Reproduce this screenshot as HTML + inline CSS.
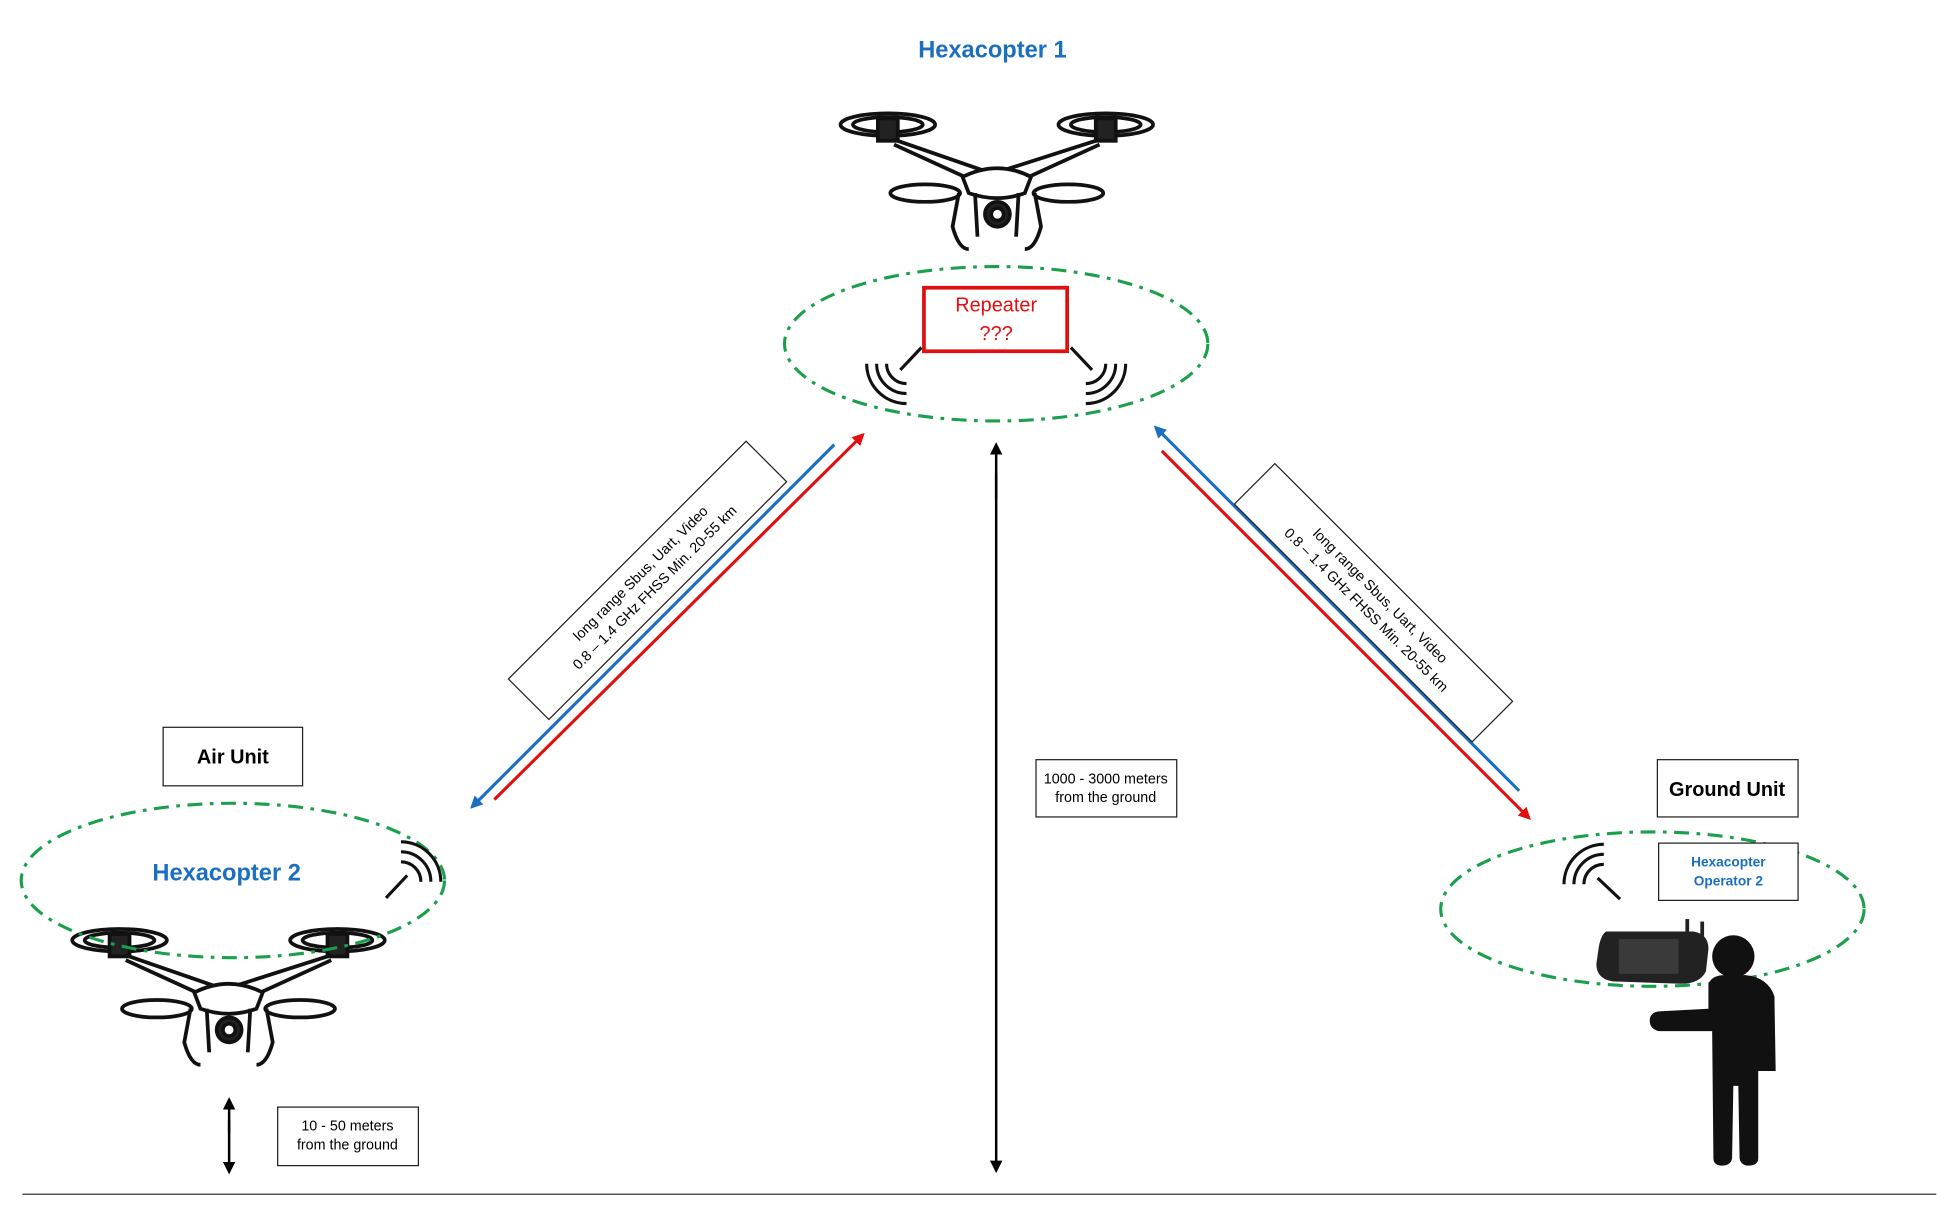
<!DOCTYPE html>
<html><head><meta charset="utf-8"><style>
html,body{margin:0;padding:0;background:#fff;}
svg{display:block;font-family:"Liberation Sans",sans-serif;}
</style></head><body>
<svg width="1950" height="1218" viewBox="0 0 1566 978" xmlns="http://www.w3.org/2000/svg">
<defs>
<marker id="ab" markerWidth="10" markerHeight="10" refX="8" refY="5" orient="auto" markerUnits="userSpaceOnUse"><path d="M0,0 L10,5 L0,10 z" fill="#1a6fc0"/></marker>
<marker id="ar" markerWidth="10" markerHeight="10" refX="8" refY="5" orient="auto" markerUnits="userSpaceOnUse"><path d="M0,0 L10,5 L0,10 z" fill="#e01010"/></marker>
<marker id="ak" markerWidth="10" markerHeight="10" refX="8" refY="5" orient="auto" markerUnits="userSpaceOnUse"><path d="M0,0 L10,5 L0,10 z" fill="#000"/></marker>
<g id="drone" fill="none" stroke="#111" stroke-width="3">
  <ellipse cx="0" cy="0" rx="38" ry="9"/><ellipse cx="0" cy="0" rx="28" ry="6"/>
  <ellipse cx="175" cy="0" rx="38" ry="9"/><ellipse cx="175" cy="0" rx="28" ry="6"/>
  <ellipse cx="30" cy="55" rx="28" ry="7"/><ellipse cx="145" cy="55" rx="28" ry="7"/>
  <rect x="-8" y="-5" width="16" height="18" fill="#222"/><rect x="167" y="-5" width="16" height="18" fill="#222"/>
  <path d="M5,12 L80,38 L95,36 L170,12 M5,16 L75,48 M170,16 L100,48"/>
  <path d="M60,42 Q88,28 115,42 L110,55 Q88,63 65,55 Z" fill="#fff"/>
  <path d="M57,55 L52,82 Q57,100 65,100 M118,55 L123,82 Q118,100 110,100"/>
  <path d="M70,55 L72,90 M105,55 L103,90"/>
  <circle cx="88" cy="72" r="10" fill="#222"/><circle cx="88" cy="72" r="5" fill="#fff"/>
</g>
<g id="sig" fill="none" stroke="#111" stroke-width="2.5">
  <path d="M-5,5 L12,-13"/>
  <path d="M-16,0 A16,16 0 0 0 0,16"/><path d="M-24,0 A24,24 0 0 0 0,24"/><path d="M-32,0 A32,32 0 0 0 0,32"/>
</g>
</defs>

<text x="797" y="46" text-anchor="middle" font-size="19" font-weight="bold" fill="#1a6fc0">Hexacopter 1</text>
<use href="#drone" x="713" y="100"/>

<ellipse cx="800" cy="276" rx="170" ry="62" fill="none" stroke="#1aa04a" stroke-width="2.5" stroke-dasharray="12,6,3,6"/>
<rect x="742" y="231" width="115" height="51" fill="#fff" stroke="#e01010" stroke-width="3"/>
<text x="800" y="250" text-anchor="middle" font-size="16" fill="#e01010">Repeater</text>
<text x="800" y="273" text-anchor="middle" font-size="16" fill="#e01010">???</text>
<use href="#sig" transform="translate(728,292)"/>
<use href="#sig" transform="translate(872,292) scale(-1,1)"/>

<line x1="670" y1="357" x2="379" y2="648" stroke="#1a6fc0" stroke-width="2.5" marker-end="url(#ab)"/>
<line x1="397" y1="642" x2="693" y2="349" stroke="#e01010" stroke-width="2.5" marker-end="url(#ar)"/>
<g transform="translate(520,466) rotate(-45)">
<rect x="-135" y="-23" width="270" height="46" fill="#fff" stroke="#222" stroke-width="1"/>
<text x="0" y="-4" text-anchor="middle" font-size="11.5">long range Sbus, Uart, Video</text>
<text x="0" y="12" text-anchor="middle" font-size="11.5">0.8 – 1.4 GHz FHSS Min. 20-55 km</text>
</g>

<line x1="1220" y1="635" x2="928" y2="343" stroke="#1a6fc0" stroke-width="2.5" marker-end="url(#ab)"/>
<line x1="933" y1="362" x2="1228" y2="657" stroke="#e01010" stroke-width="2.5" marker-end="url(#ar)"/>
<g transform="translate(1103,484) rotate(45)">
<rect x="-135" y="-23" width="270" height="46" fill="#fff" stroke="#222" stroke-width="1"/>
<text x="0" y="-4" text-anchor="middle" font-size="11.5">long range Sbus, Uart, Video</text>
<text x="0" y="12" text-anchor="middle" font-size="11.5">0.8 – 1.4 GHz FHSS Min. 20-55 km</text>
</g>

<line x1="800" y1="400" x2="800" y2="357" stroke="#000" stroke-width="2" marker-end="url(#ak)"/>
<line x1="800" y1="380" x2="800" y2="940" stroke="#000" stroke-width="2" marker-end="url(#ak)"/>
<rect x="832" y="610" width="113" height="46" fill="#fff" stroke="#222"/>
<text x="888" y="629" text-anchor="middle" font-size="11.5">1000 - 3000 meters</text>
<text x="888" y="644" text-anchor="middle" font-size="11.5">from the ground</text>

<rect x="131" y="584" width="112" height="47" fill="#fff" stroke="#222"/>
<text x="187" y="613" text-anchor="middle" font-size="16" font-weight="bold">Air Unit</text>
<use href="#drone" x="96" y="755"/>
<ellipse cx="187" cy="707" rx="170" ry="62" fill="none" stroke="#1aa04a" stroke-width="2.5" stroke-dasharray="12,6,3,6"/>
<text x="182" y="707" text-anchor="middle" font-size="19" font-weight="bold" fill="#1a6fc0">Hexacopter 2</text>
<use href="#sig" transform="translate(322,708) rotate(180)"/>

<line x1="184" y1="910" x2="184" y2="883" stroke="#000" stroke-width="2" marker-end="url(#ak)"/>
<line x1="184" y1="900" x2="184" y2="941" stroke="#000" stroke-width="2" marker-end="url(#ak)"/>
<rect x="223" y="889" width="113" height="47" fill="#fff" stroke="#222"/>
<text x="279" y="908" text-anchor="middle" font-size="11.5">10 - 50 meters</text>
<text x="279" y="923" text-anchor="middle" font-size="11.5">from the ground</text>

<rect x="1331" y="610" width="113" height="46" fill="#fff" stroke="#222"/>
<text x="1387" y="639" text-anchor="middle" font-size="16" font-weight="bold">Ground Unit</text>
<ellipse cx="1327" cy="730" rx="170" ry="62" fill="none" stroke="#1aa04a" stroke-width="2.5" stroke-dasharray="12,6,3,6"/>
<rect x="1332" y="677" width="112" height="46" fill="#fff" stroke="#222"/>
<text x="1388" y="696" text-anchor="middle" font-size="11" font-weight="bold" fill="#1a6fc0">Hexacopter</text>
<text x="1388" y="711" text-anchor="middle" font-size="11" font-weight="bold" fill="#1a6fc0">Operator 2</text>
<use href="#sig" transform="translate(1288,710) rotate(90)"/>

<g fill="#111">
<circle cx="1392" cy="768" r="17"/>
<path d="M1372,790 Q1375,783 1385,783 L1402,783 Q1420,785 1425,800 L1426,860 L1412,860 L1412,930 Q1412,936 1404,936 Q1398,936 1397,930 L1396,872 L1392,872 L1391,930 Q1390,936 1383,936 Q1376,936 1376,930 L1375,828 L1332,828 Q1324,826 1325,818 Q1326,812 1334,812 L1372,810 Z"/>
</g>
<g>
<path d="M1290,748 L1360,748 Q1372,750 1372,762 L1370,780 Q1365,790 1350,790 L1295,788 Q1282,786 1282,774 L1284,760 Q1286,750 1290,748 Z" fill="#222"/>
<rect x="1300" y="754" width="48" height="28" fill="#3a3a3a"/>
<line x1="1355" y1="738" x2="1355" y2="750" stroke="#222" stroke-width="3"/>
<line x1="1367" y1="740" x2="1367" y2="752" stroke="#222" stroke-width="3"/>
</g>

<line x1="18" y1="959" x2="1555" y2="959" stroke="#555" stroke-width="1.2"/>
</svg>
</body></html>
